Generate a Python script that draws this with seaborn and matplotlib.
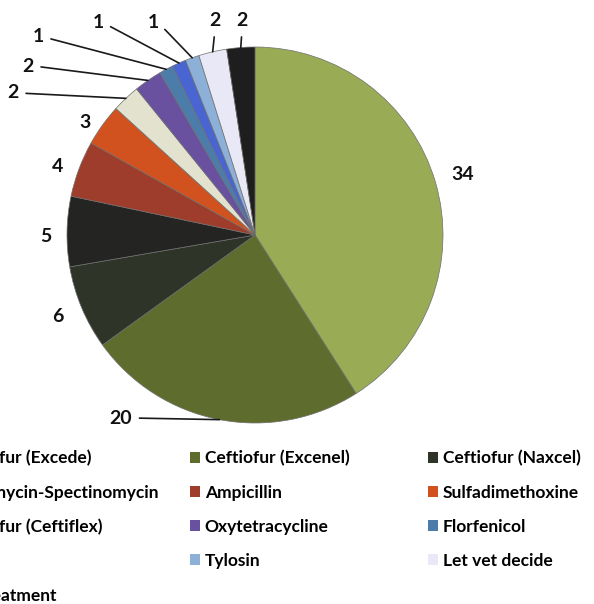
import matplotlib.pyplot as plt
import numpy as np
import seaborn as sns
from matplotlib.patches import Patch

# Data
treatments = ["Ceftiofur (Excede)", "Ceftiofur (Excenel)", "Ceftiofur (Naxcel)",
              "Lincomycin-Spectinomycin", "Ampicillin", "Sulfadimethoxine",
              "Ceftiofur (Ceftiflex)", "Oxytetracycline", "Florfenicol",
              "Other", "Tylosin", "Let vet decide", "No treatment"]
counts = [34, 20, 6, 5, 4, 3, 2, 2, 1, 1, 1, 2, 2]
colors = ["#9aab55", "#5e6d2e", "#2f3429", "#242422", "#9f3d2c", "#d2521f",
          "#e2e2cf", "#6a51a0", "#4c7daa", "#4865d2", "#8db0d8", "#e8e8f6", "#1e1e1e"]

sns.set_theme(style="white")
plt.rcParams["font.family"] = ["Lato", "DejaVu Sans"]
plt.rcParams["text.color"] = "black"

W, H = 594, 604
fig = plt.figure(figsize=(W / 100, H / 100), dpi=100)
cx, cy, R = 255, 235, 188
ax = fig.add_axes([(cx - R) / W, (H - cy - R) / H, 2 * R / W, 2 * R / H])

wedges, _ = ax.pie(counts, colors=colors, startangle=90, counterclock=False,
                   wedgeprops=dict(edgecolor="#6e6e6e", linewidth=0.5))
ax.set_xlim(-1, 1)
ax.set_ylim(-1, 1)


def to_data(x, y):
    return ((x - cx) / R, (cy - y) / R)


# label placement (pixel coords) and leader line style
label_pos = [(463, 175), (132, 418), (58, 317), (46, 236), (58, 167), (85, 122),
             (13, 93), (28, 66), (38, 37), (98, 23), (153, 23), (215, 21), (242, 21)]
leader = [None, "left", None, None, None, None,
          "left", "left", "left", "left", "left", "top", "top"]

for w, n, pos, kind in zip(wedges, counts, label_pos, leader):
    mid = np.deg2rad((w.theta1 + w.theta2) / 2)
    edge = (np.cos(mid), np.sin(mid))
    tx, ty = to_data(*pos)
    if kind is None:
        ax.text(tx, ty, str(n), ha="center", va="center", fontsize=14,
                fontweight="bold", color="#111111")
    else:
        ha = "right" if n == 20 else "center"
        relpos = (1, 0.5) if kind == "left" else (0.5, 0)
        ax.annotate(str(n), xy=edge, xytext=(tx, ty), ha=ha, va="center",
                    fontsize=14, fontweight="bold", color="#111111",
                    arrowprops=dict(arrowstyle="-", color="#1a1a1a", lw=1.2,
                                    relpos=relpos, shrinkA=3, shrinkB=0))

# Legend in three columns (Excel-style, row-major)
handles = [Patch(facecolor=c, edgecolor="none") for c in colors]
col_x = [-64, 190, 428]
for k, x0 in enumerate(col_x):
    idx = list(range(k, len(treatments), 3))
    fig.legend([handles[i] for i in idx], [treatments[i] for i in idx],
               loc="upper left", bbox_to_anchor=(x0 / W, 1 - 450 / H),
               frameon=False, handlelength=0.6, handleheight=0.6,
               handletextpad=0.25, labelspacing=1.05, borderpad=0, borderaxespad=0,
               labelcolor="black", prop=dict(weight="bold", size=12.5))

fig.savefig("out.png", dpi=100)
